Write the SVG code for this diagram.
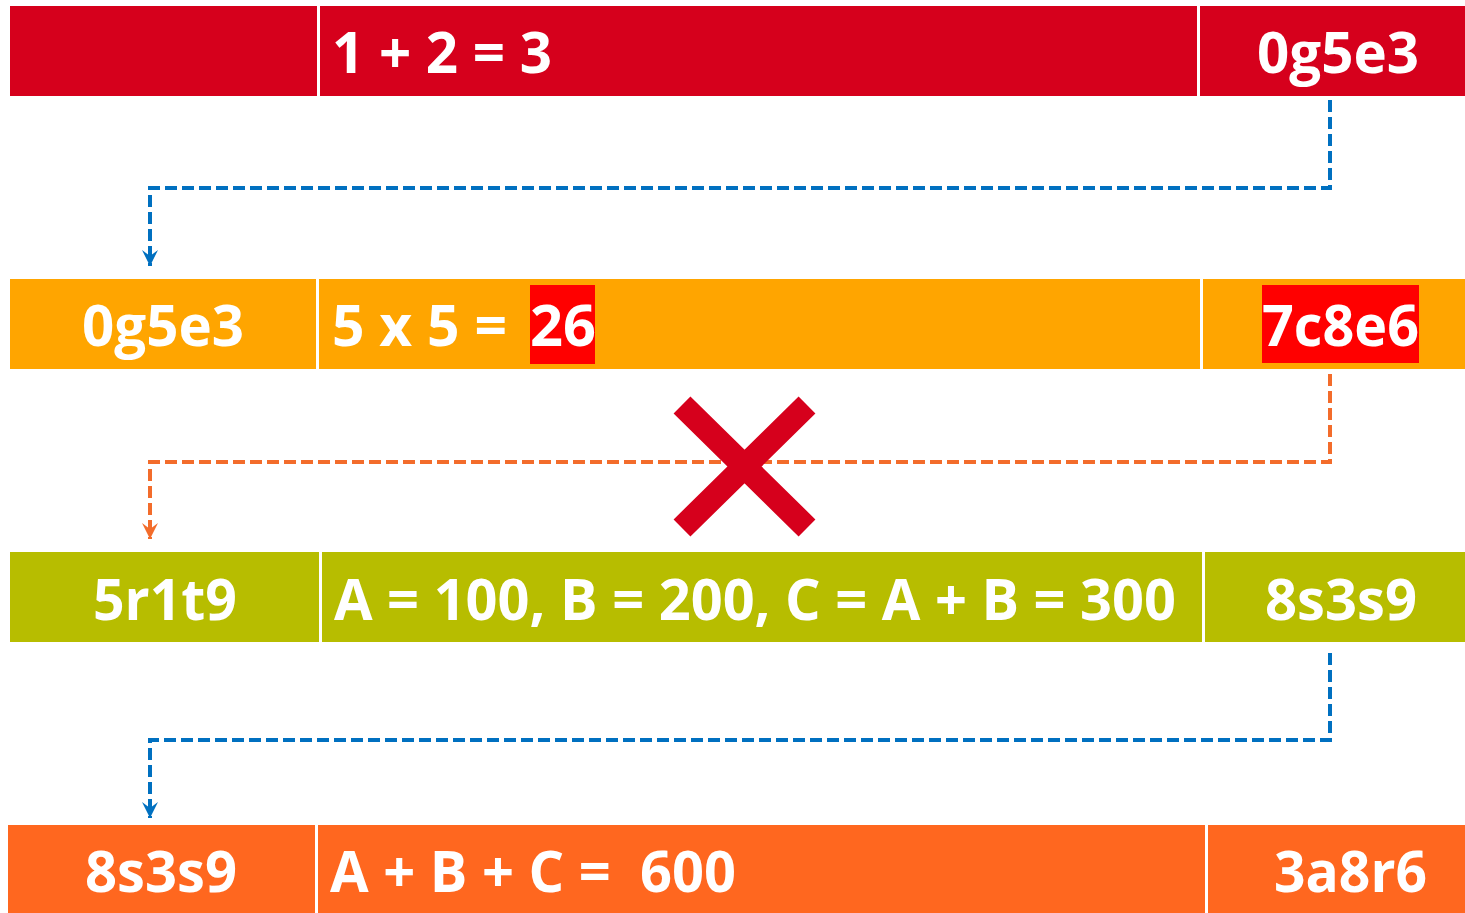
<svg xmlns="http://www.w3.org/2000/svg" width="1465" height="913" viewBox="0 0 1465 913">
<defs>
<style>
.t{font-family:"Open Sans","Liberation Sans",sans-serif;font-weight:700;font-size:57px;fill:#ffffff}
.c{stroke-width:4;fill:none;stroke-dasharray:12 5}
.blue{stroke:#0070c0}
.org{stroke:#f36c2b}
</style>
<marker id="ab" markerUnits="userSpaceOnUse" markerWidth="20" markerHeight="20" viewBox="-18 -10 20 20" refX="0" refY="0" orient="auto">
<path d="M-16,-8 L0,0 L-16,8 L-10,0 Z" fill="#0070c0"/>
</marker>
<marker id="ao" markerUnits="userSpaceOnUse" markerWidth="20" markerHeight="20" viewBox="-18 -10 20 20" refX="0" refY="0" orient="auto">
<path d="M-16,-8 L0,0 L-16,8 L-10,0 Z" fill="#f36c2b"/>
</marker>
</defs>
<rect width="1465" height="913" fill="#ffffff"/>

<g id="row1">
<rect x="10" y="6" width="307" height="90" fill="#d6001c"/>
<rect x="320" y="6" width="877" height="90" fill="#d6001c"/>
<rect x="1200" y="6" width="265" height="90" fill="#d6001c"/>
<text class="t" x="332" y="73" textLength="220" lengthAdjust="spacingAndGlyphs">1 + 2 = 3</text>
<text class="t" x="1257" y="73" textLength="162" lengthAdjust="spacingAndGlyphs">0g5e3</text>
</g>

<g id="row2">
<rect x="10" y="279" width="306" height="90" fill="#ffa500"/>
<rect x="319" y="279" width="881" height="90" fill="#ffa500"/>
<rect x="1203" y="279" width="262" height="90" fill="#ffa500"/>
<rect x="530" y="285" width="65" height="79" fill="#ff0000"/>
<rect x="1262" y="285" width="157" height="78" fill="#ff0000"/>
<text class="t" x="82" y="346" textLength="162" lengthAdjust="spacingAndGlyphs">0g5e3</text>
<text class="t" x="332" y="346" textLength="175" lengthAdjust="spacingAndGlyphs">5 x 5 =</text>
<text class="t" x="530" y="346" textLength="66" lengthAdjust="spacingAndGlyphs">26</text>
<text class="t" x="1262" y="346" textLength="157" lengthAdjust="spacingAndGlyphs">7c8e6</text>
</g>

<g id="row3">
<rect x="10" y="552" width="309" height="90" fill="#b7bd00"/>
<rect x="322" y="552" width="880" height="90" fill="#b7bd00"/>
<rect x="1205" y="552" width="260" height="90" fill="#b7bd00"/>
<text class="t" x="93" y="620" textLength="144" lengthAdjust="spacingAndGlyphs">5r1t9</text>
<text class="t" x="334" y="620" textLength="842" lengthAdjust="spacingAndGlyphs">A = 100, B = 200, C = A + B = 300</text>
<text class="t" x="1265" y="620" textLength="152" lengthAdjust="spacingAndGlyphs">8s3s9</text>
</g>

<g id="row4">
<rect x="8" y="825" width="307" height="88" fill="#ff671f"/>
<rect x="318" y="825" width="887" height="88" fill="#ff671f"/>
<rect x="1208" y="825" width="257" height="88" fill="#ff671f"/>
<text class="t" x="85" y="892" textLength="152" lengthAdjust="spacingAndGlyphs">8s3s9</text>
<text class="t" x="330" y="892" textLength="406" lengthAdjust="spacingAndGlyphs" xml:space="preserve">A + B + C =  600</text>
<text class="t" x="1274" y="892" textLength="153" lengthAdjust="spacingAndGlyphs">3a8r6</text>
</g>

<g id="connectors">
<path class="c blue" d="M1330,100 V188 H150 V266" marker-end="url(#ab)"/>
<path class="c org" d="M1330,374 V462 H150 V539" marker-end="url(#ao)"/>
<path class="c blue" d="M1330,653 V740 H150 V818" marker-end="url(#ab)"/>
</g>

<g id="cross">
<path d="M682,405 L807,528 M807,405 L682,528" stroke="#d6001c" stroke-width="24" fill="none"/>
</g>
</svg>
